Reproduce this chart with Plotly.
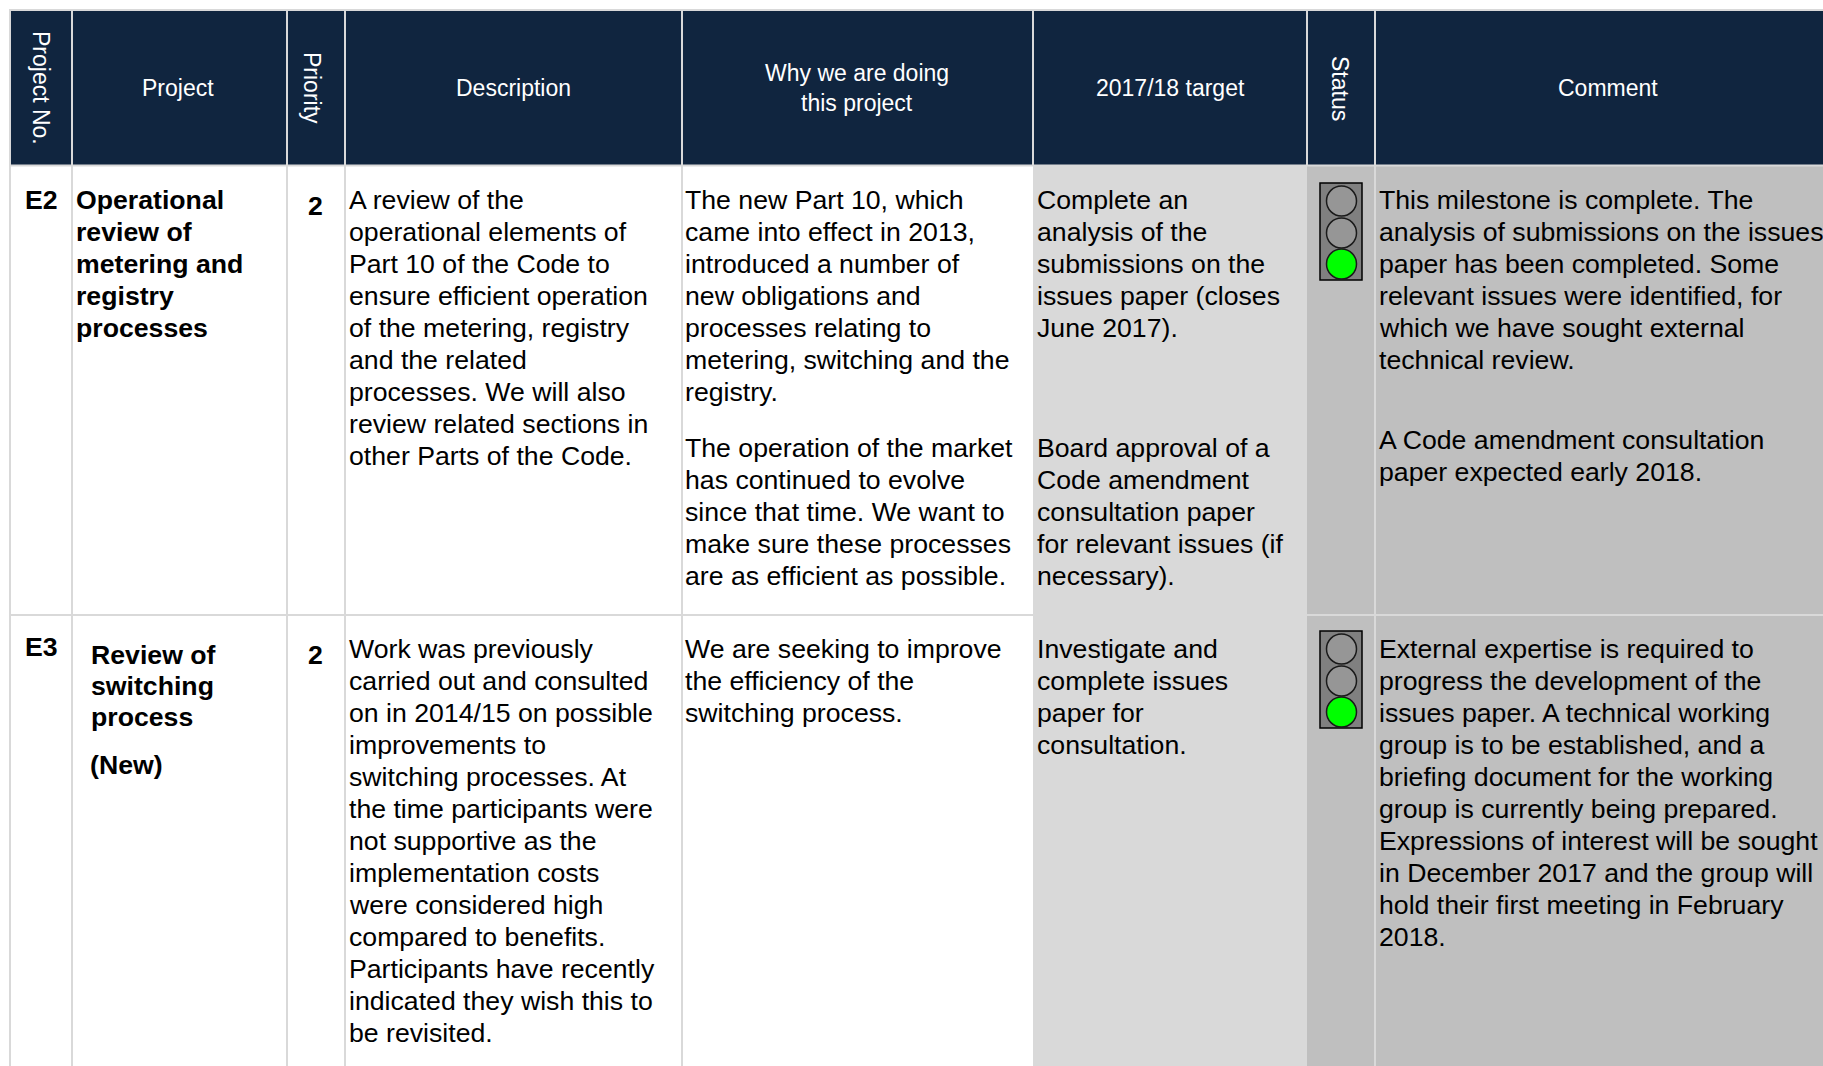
import plotly.graph_objects as go

# ---------- content ----------
header_labels = ["Project No.", "Project", "Priority", "Description",
                 ["Why we are doing", "this project"], "2017/18 target", "Status", "Comment"]
header_angle = [90, 0, 90, 0, 0, 0, 90, 0]

project_no = ["E2", "E3"]
priority = ["2", "2"]
status = ["green", "green"]

project_e2 = ["Operational", "review of", "metering and", "registry", "processes"]
project_e3 = ["Review of", "switching", "process"]
project_e3_note = ["(New)"]

desc_e2 = ["A review of the", "operational elements of", "Part 10 of the Code to",
           "ensure efficient operation", "of the metering, registry", "and the related",
           "processes. We will also", "review related sections in", "other Parts of the Code."]
desc_e3 = ["Work was previously", "carried out and consulted", "on in 2014/15 on possible",
           "improvements to", "switching processes. At", "the time participants were",
           "not supportive as the", "implementation costs", "were considered high",
           "compared to benefits.", "Participants have recently", "indicated they wish this to",
           "be revisited."]

why_e2a = ["The new Part 10, which", "came into effect in 2013,", "introduced a number of",
           "new obligations and", "processes relating to", "metering, switching and the", "registry."]
why_e2b = ["The operation of the market", "has continued to evolve", "since that time. We want to",
           "make sure these processes", "are as efficient as possible."]
why_e3 = ["We are seeking to improve", "the efficiency of the", "switching process."]

target_e2a = ["Complete an", "analysis of the", "submissions on the", "issues paper (closes", "June 2017)."]
target_e2b = ["Board approval of a", "Code amendment", "consultation paper", "for relevant issues (if", "necessary)."]
target_e3 = ["Investigate and", "complete issues", "paper for", "consultation."]

comment_e2a = ["This milestone is complete. The", "analysis of submissions on the issues",
               "paper has been completed. Some", "relevant issues were identified, for",
               "which we have sought external", "technical review."]
comment_e2b = ["A Code amendment consultation", "paper expected early 2018."]
comment_e3 = ["External expertise is required to", "progress the development of the",
              "issues paper. A technical working", "group is to be established, and a",
              "briefing document for the working", "group is currently being prepared.",
              "Expressions of interest will be sought", "in December 2017 and the group will",
              "hold their first meeting in February", "2018."]

# ---------- layout constants (pixel-like axis units) ----------
W, H = 1823, 1066
col_edges = [10, 72, 287, 345, 682, 1033, 1307, 1375, W]
head_top, head_bot, row_sep = 11, 165.5, 615
NAVY, GRID, TGT, STAT = "#10253F", "#D9D9D9", "#D9D9D9", "#BFBFBF"
BODY_FS, LH = 26.67, 32.0
SANS = "Liberation Sans"

fig = go.Figure()
shapes, notes = [], []


def rect(x0, x1, y0, y1, fill):
    shapes.append(dict(type="rect", xref="x", yref="y", x0=x0, x1=x1, y0=y0, y1=y1,
                       fillcolor=fill, line_width=0, layer="below"))


def line(x0, y0, x1, y1, w=2, c=GRID):
    shapes.append(dict(type="line", xref="x", yref="y", x0=x0, x1=x1, y0=y0, y1=y1,
                       line=dict(color=c, width=w), layer="below"))


def put(lines, x, y, bold=False, fs=BODY_FS, lh=LH):
    for i, t in enumerate(lines):
        notes.append(dict(x=x, y=y + i * lh, xref="x", yref="y", text=f"<b>{t}</b>" if bold else t,
                          showarrow=False, xanchor="left", yanchor="middle",
                          font=dict(family=SANS, size=fs, color="#000000")))


# fills
rect(col_edges[0], W, head_top, head_bot, NAVY)
rect(col_edges[5], col_edges[6], head_bot, H, TGT)
rect(col_edges[6], W, head_bot, H, STAT)

# grid
line(col_edges[0] - 1, 10, W, 10)
line(col_edges[0] - 1, head_bot, W, head_bot)
line(col_edges[0] - 1, row_sep, col_edges[5], row_sep)
line(col_edges[6], row_sep, W, row_sep)
for i, x in enumerate(col_edges[:-1]):
    if i in (5, 6):
        line(x, head_top, x, head_bot)
    else:
        line(x, head_top, x, H)

# header text
head_cx = [41, 178, 312, 513, 857, 1170, 1340, 1608]
for lab, ang, cx in zip(header_labels, header_angle, head_cx):
    labs = lab if isinstance(lab, list) else [lab]
    for i, t in enumerate(labs):
        yy = 88 if len(labs) == 1 else 73 + i * 30
        notes.append(dict(x=cx, y=yy, xref="x", yref="y", text=t, showarrow=False,
                          textangle=ang, xanchor="center", yanchor="middle",
                          font=dict(family=SANS, size=23, color="#FFFFFF")))

# rows
row_top = [200, 649]
for no, pr, y in zip(project_no, priority, row_top):
    put([no], 22.5, y - 2 if no == "E3" else y, bold=True)
    notes.append(dict(x=315, y=y + 6, xref="x", yref="y", text=f"<b>{pr}</b>", showarrow=False,
                      xanchor="center", yanchor="middle",
                      font=dict(family=SANS, size=BODY_FS, color="#000000")))

put(project_e2, 73.5, 200, bold=True)
put(project_e3, 88.5, 655, bold=True, lh=31)
put(project_e3_note, 87.5, 765, bold=True)
put(desc_e2, 346.5, 200)
put(desc_e3, 346.5, 649)
put(why_e2a, 683, 200)
put(why_e2b, 683, 448)
put(why_e3, 683, 649)
put(target_e2a, 1034.5, 200)
put(target_e2b, 1034.5, 448)
put(target_e3, 1034.5, 649)
put(comment_e2a, 1376.5, 200)
put(comment_e2b, 1376.5, 440)
put(comment_e3, 1376.5, 649)

# traffic lights
for s, dy in zip(status, [0, 448]):
    shapes.append(dict(type="rect", xref="x", yref="y", x0=1320, x1=1362, y0=183 + dy, y1=280 + dy,
                       fillcolor="#808080", line=dict(color="#000000", width=1.5), layer="below"))
    fig.add_trace(go.Scatter(
        x=[1341.5, 1341.5, 1341.5], y=[201 + dy, 233 + dy, 264 + dy], mode="markers", hoverinfo="skip",
        marker=dict(size=30, color=["#969696", "#969696", "#00FF00" if s == "green" else "#969696"],
                    line=dict(color="#1A1A1A", width=1.5))))

fig.update_layout(
    width=W, height=H, margin=dict(l=0, r=0, t=0, b=0, pad=0), showlegend=False,
    paper_bgcolor="#FFFFFF", plot_bgcolor="#FFFFFF", shapes=shapes, annotations=notes,
    xaxis=dict(range=[0, W], visible=False, fixedrange=True),
    yaxis=dict(range=[H, 0], visible=False, fixedrange=True),
)
fig.write_html("out.html", config=dict(displayModeBar=False),
               post_script="document.body.style.margin='0';document.body.style.overflow='hidden';")
